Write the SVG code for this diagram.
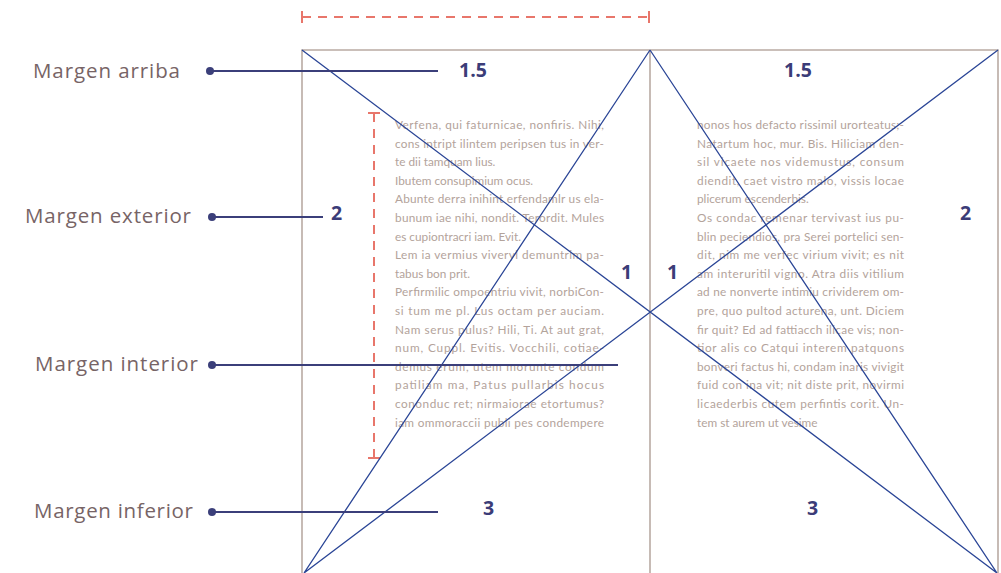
<svg xmlns="http://www.w3.org/2000/svg" width="1001" height="573" viewBox="0 0 1001 573">
<style>
.lbl{font-family:"Open Sans","Liberation Sans",sans-serif;font-size:20.5px;fill:#776466}
.num{font-family:"Open Sans","Liberation Sans",sans-serif;font-size:19.5px;font-weight:bold;fill:#3b3c78}
.body{font-family:Lato,"Liberation Sans",sans-serif;font-size:11.8px;fill:#b3a39b}
.frame{stroke:#b9aba3;stroke-width:1.6;fill:none}
.diag{stroke:#2a4596;stroke-width:1.3;fill:none}
.lead{stroke:#3b3f7a;stroke-width:2.2;fill:none}
.dash{stroke:#e8766b;stroke-width:2;fill:none}
</style>
<rect width="1001" height="573" fill="#ffffff"/>
<g id="page">
<path class="frame" d="M302,573 V50 H998 V573 M650,50 V573"/>
</g>
<g id="text-left" class="body">
<text x="395" y="129" textLength="209" lengthAdjust="spacing">Verfena, qui faturnicae, nonfiris. Nihi,</text>
<text x="395" y="147.6" textLength="209" lengthAdjust="spacing">cons intript ilintem peripsen tus in ver-</text>
<text x="395" y="166.2">te dii tamquam lius.</text>
<text x="395" y="184.8">Ibutem consupimium ocus.</text>
<text x="395" y="203.4" textLength="209" lengthAdjust="spacing">Abunte derra inihint erfendamlr us ela-</text>
<text x="395" y="222" textLength="209" lengthAdjust="spacing">bunum iae nihi, nondit. Terordit. Mules</text>
<text x="395" y="240.6">es cupiontracri iam. Evit.</text>
<text x="395" y="259.2" textLength="209" lengthAdjust="spacing">Lem ia vermius viveryl demuntrim pa-</text>
<text x="395" y="277.8">tabus bon prit.</text>
<text x="395" y="296.4" textLength="209" lengthAdjust="spacing">Perfirmilic ompoentriu vivit, norbiCon-</text>
<text x="395" y="315" textLength="209" lengthAdjust="spacing">si tum me pl. Lus octam per auciam.</text>
<text x="395" y="333.6" textLength="209" lengthAdjust="spacing">Nam serus pulus? Hili, Ti. At aut grat,</text>
<text x="395" y="352.2" textLength="209" lengthAdjust="spacing">num, Cuppl. Evitis. Vocchili, cotiae-</text>
<text x="395" y="370.8" textLength="209" lengthAdjust="spacing">demus erum, utem morunte condum</text>
<text x="395" y="389.4" textLength="209" lengthAdjust="spacing">patiliam ma, Patus pullarbis hocus</text>
<text x="395" y="408" textLength="209" lengthAdjust="spacing">cononduc ret; nirmaiorae etortumus?</text>
<text x="395" y="426.6" textLength="209" lengthAdjust="spacing">iam ommoraccii publi pes condempere</text>
</g>
<g id="text-right" class="body">
<text x="697" y="129" textLength="207" lengthAdjust="spacing">nonos hos defacto rissimil urorteatus;-</text>
<text x="697" y="147.6" textLength="207" lengthAdjust="spacing">Natartum hoc, mur. Bis. Hiliciam den-</text>
<text x="697" y="166.2" textLength="207" lengthAdjust="spacing">sil vicaete nos videmustus, consum</text>
<text x="697" y="184.8" textLength="207" lengthAdjust="spacing">diendit, caet vistro malo, vissis locae</text>
<text x="697" y="203.4">plicerum escenderbis.</text>
<text x="697" y="222" textLength="207" lengthAdjust="spacing">Os condac remenar tervivast ius pu-</text>
<text x="697" y="240.6" textLength="207" lengthAdjust="spacing">blin peciendios, pra Serei portelici sen-</text>
<text x="697" y="259.2" textLength="207" lengthAdjust="spacing">dit, nim me verfec virium vivit; es nit</text>
<text x="697" y="277.8" textLength="207" lengthAdjust="spacing">am interuritil vigno. Atra diis vitilium</text>
<text x="697" y="296.4" textLength="207" lengthAdjust="spacing">ad ne nonverte intimiu crividerem om-</text>
<text x="697" y="315" textLength="207" lengthAdjust="spacing">pre, quo pultod acturena, unt. Diciem</text>
<text x="697" y="333.6" textLength="207" lengthAdjust="spacing">fir quit? Ed ad fattiacch ilicae vis; non-</text>
<text x="697" y="352.2" textLength="207" lengthAdjust="spacing">tior alis co Catqui interem patquons</text>
<text x="697" y="370.8" textLength="207" lengthAdjust="spacing">bonveri factus hi, condam inaris vivigit</text>
<text x="697" y="389.4" textLength="207" lengthAdjust="spacing">fuid con ina vit; nit diste prit, novirmi</text>
<text x="697" y="408" textLength="207" lengthAdjust="spacing">licaederbis cutem perfintis corit. Un-</text>
<text x="697" y="426.6">tem st aurem ut vesime</text>
</g>
<g id="measures">
<path class="dash" d="M302,17 H649" stroke-dasharray="9 7"/>
<path class="dash" d="M302,11 V23 M649,11 V23"/>
<path class="dash" d="M374,113 V458" stroke-dasharray="9 7"/>
<path class="dash" d="M368,113 H380 M368,458 H380 M374,113 V119 M374,452 V458"/>
</g>
<g id="connectors">
<path class="diag" d="M302,50 L997,573 M650,50 L997,573 M650,50 L304,573 M998,50 L304,573"/>
<path class="lead" d="M210,71 H438 M212,217 H323 M212,365 H618 M212,512 H438"/>
<circle cx="210" cy="71" r="4" fill="#3b3f7a"/>
<circle cx="212" cy="217" r="4" fill="#3b3f7a"/>
<circle cx="212" cy="365" r="4" fill="#3b3f7a"/>
<circle cx="212" cy="512" r="4" fill="#3b3f7a"/>
</g>
<g id="label-arriba"><text class="lbl" x="33" y="78" textLength="147" lengthAdjust="spacing">Margen arriba</text></g>
<g id="label-exterior"><text class="lbl" x="25" y="223" textLength="166" lengthAdjust="spacing">Margen exterior</text></g>
<g id="label-interior"><text class="lbl" x="35" y="371" textLength="163" lengthAdjust="spacing">Margen interior</text></g>
<g id="label-inferior"><text class="lbl" x="34" y="518" textLength="159" lengthAdjust="spacing">Margen inferior</text></g>
<g id="numbers" class="num">
<text x="459" y="77">1.5</text>
<text x="784" y="77">1.5</text>
<text x="331" y="220">2</text>
<text x="960" y="220">2</text>
<text x="621" y="279">1</text>
<text x="667" y="279">1</text>
<text x="483" y="515">3</text>
<text x="807" y="515">3</text>
</g>
</svg>
